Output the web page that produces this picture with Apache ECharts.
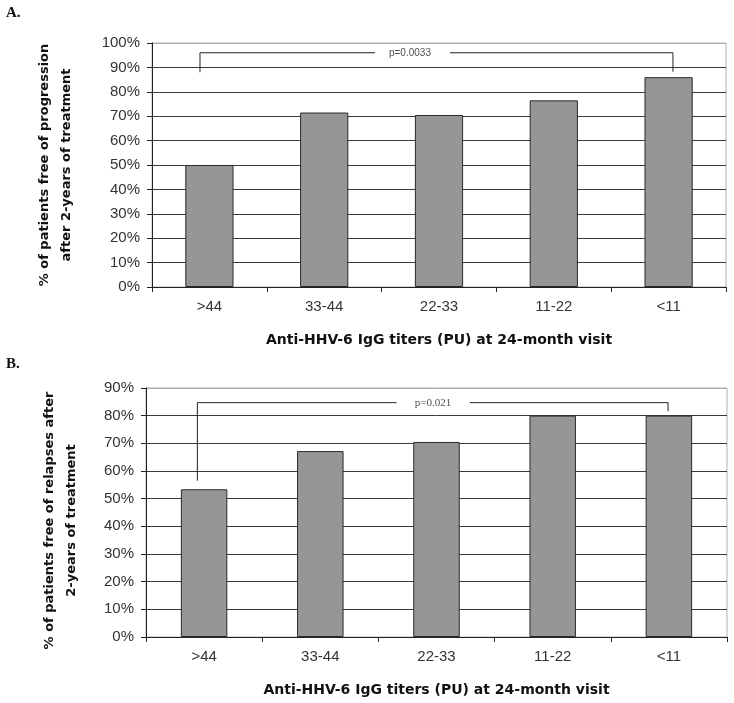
<!DOCTYPE html>
<html>
<head>
<meta charset="utf-8">
<script src="https://cdn.jsdelivr.net/npm/echarts@6/dist/echarts.min.js"></script>
<style>
html,body{margin:0;padding:0;background:#fff;}
#c{width:734px;height:703px;}
</style>
</head>
<body>
<div id="c"></div>
<script>
const categories = ['>44', '33-44', '22-33', '11-22', '<11'];
const progressionFree = [50, 71.5, 70.5, 76.5, 86];
const relapseFree = [53.4, 67.2, 70.5, 80, 80];
const xTitle = 'Anti-HHV-6 IgG titers (PU) at 24-month visit';
const yTitleA = '% of patients free of progression\nafter 2-years of treatment';
const yTitleB = '% of patients free of relapses after\n2-years of treatment';
const pA = 'p=0.0033';
const pB = 'p=0.021';
// bracket geometry in category units (0..5) and percent
const bracketA = {left: 0.418, right: 4.538, top: 96, leftEnd: 88, rightEnd: 88.2, gapL: 1.943, gapR: 2.596, text: 2.247};
const bracketB = {left: 0.442, right: 4.493, top: 84.7, leftEnd: 56.5, rightEnd: 81.6, gapL: 2.156, gapR: 2.786, text: 2.47};

const chart = echarts.init(document.getElementById('c'));
const gridCol = (n) => { const a = []; for (let i = 0; i < n; i++) a.push('#3a3a3a'); a[n-1] = '#b0b0b0'; return a; };
const SANS = 'Liberation Sans, Arial, sans-serif';
const BOLD = 'DejaVu Sans, Verdana, sans-serif';

function bracketSeries(b, xi, yi, ptext, fontFamily, fontSize) {
  const ls = {color: '#222', width: 1};
  return [
    {type: 'line', xAxisIndex: xi, yAxisIndex: yi, symbol: 'none', silent: true, lineStyle: ls, z: 5,
     data: [[b.left, b.leftEnd], [b.left, b.top], [b.gapL, b.top]]},
    {type: 'line', xAxisIndex: xi, yAxisIndex: yi, symbol: 'none', silent: true, lineStyle: ls, z: 5,
     data: [[b.gapR, b.top], [b.right, b.top], [b.right, b.rightEnd]]},
    {type: 'scatter', xAxisIndex: xi, yAxisIndex: yi, symbolSize: 0, silent: true, z: 6,
     label: {show: true, position: 'inside', formatter: ptext, color: '#222', fontSize: fontSize, fontFamily: fontFamily},
     data: [[b.text, b.top]]}
  ];
}

const catAxis = (gi) => ({
  type: 'category', gridIndex: gi, data: categories,
  axisLine: {lineStyle: {color: '#222', width: 1}},
  axisTick: {show: true, alignWithLabel: false, length: 5, lineStyle: {color: '#222'}},
  axisLabel: {color: '#333', fontSize: 15, fontFamily: SANS, margin: 12},
  name: xTitle, nameLocation: 'middle', nameGap: 46,
  nameTextStyle: {fontWeight: 'bold', fontSize: 14, color: '#111', fontFamily: BOLD}
});
const valX = (gi) => ({type: 'value', gridIndex: gi, min: 0, max: 5, show: false});
const valY = (gi, max, title, gap, pad) => ({
  type: 'value', gridIndex: gi, min: 0, max: max, interval: 10,
  axisLine: {show: true, lineStyle: {color: '#222', width: 1}},
  axisTick: {show: true, length: 5, lineStyle: {color: '#222'}},
  axisLabel: {formatter: '{value}%', color: '#333', fontSize: 15, fontFamily: SANS, margin: 12},
  splitLine: {show: true, lineStyle: {color: gridCol(max / 10 + 1), width: 1}},
  name: title, nameLocation: 'middle', nameGap: gap, nameRotate: 90,
  nameTextStyle: {fontWeight: 'bold', fontSize: 13, color: '#111', fontFamily: BOLD, lineHeight: 22, align: 'center', padding: pad}
});

const barStyle = {color: '#969696', borderColor: '#2a2a2a', borderWidth: 1};

chart.setOption({
  animation: false,
  backgroundColor: '#fff',
  title: [
    {text: 'A.', left: 1, top: 1, textStyle: {fontFamily: 'Liberation Serif, Times New Roman', fontWeight: 'bold', fontSize: 15, color: '#111'}},
    {text: 'B.', left: 1, top: 352, textStyle: {fontFamily: 'Liberation Serif, Times New Roman', fontWeight: 'bold', fontSize: 15, color: '#111'}}
  ],
  grid: [
    {left: 152, top: 43, width: 574, height: 244, show: true, borderColor: '#b0b0b0', borderWidth: 1, backgroundColor: 'transparent'},
    {left: 146, top: 388, width: 581, height: 249, show: true, borderColor: '#b0b0b0', borderWidth: 1, backgroundColor: 'transparent'}
  ],
  xAxis: [catAxis(0), catAxis(1), valX(0), valX(1)],
  yAxis: [valY(0, 100, yTitleA, 74, 0), valY(1, 90, yTitleB, 63, [0, 16, 0, 0])],
  series: [
    {type: 'bar', xAxisIndex: 0, yAxisIndex: 0, data: progressionFree, barWidth: '42%', itemStyle: barStyle},
    {type: 'bar', xAxisIndex: 1, yAxisIndex: 1, data: relapseFree, barWidth: '40%', itemStyle: barStyle},
    ...bracketSeries(bracketA, 2, 0, pA, SANS, 10),
    ...bracketSeries(bracketB, 3, 1, pB, 'Liberation Serif, Times New Roman, serif', 11)
  ]
});
</script>
</body>
</html>
